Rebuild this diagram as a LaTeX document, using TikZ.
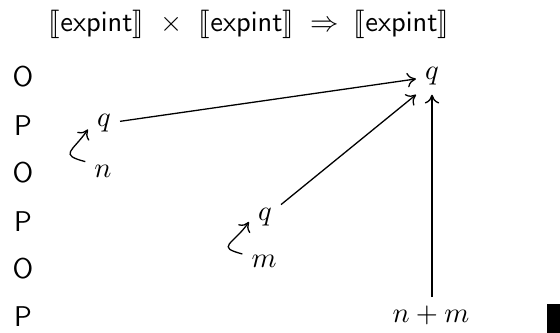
\documentclass[tikz,border=0pt]{standalone}
\usepackage{stmaryrd}
\usetikzlibrary{arrows.meta}
\begin{document}
\begin{tikzpicture}[x=0.385pt,y=-0.385pt,
  every node/.style={font=\fontsize{11}{13}\selectfont},
  ttl/.style={font=\fontsize{11.3}{14}\selectfont, anchor=base, inner sep=0pt},
  lbl/.style={font=\fontsize{11}{13}\selectfont\sffamily, inner sep=0pt},
  mnode/.style={anchor=base},
  arr/.style={-{To[length=3.4pt,width=5.6pt]}, line width=0.5pt},
  curl/.style={-{To[length=3.4pt,width=5.6pt]}, line width=0.5pt, looseness=2.2}]
\useasboundingbox (0,0) rectangle (560,333);
% title
\node[ttl] (t1) at (96.5,32) {$\llbracket\mathsf{expint}\rrbracket$};
\node[ttl] (tx) at (171.5,32) {$\times$};
\node[ttl] (t2) at (246.5,32) {$\llbracket\mathsf{expint}\rrbracket$};
\node[ttl] (tr) at (325,32) {$\Rightarrow$};
\node[ttl] (t3) at (401.5,32) {$\llbracket\mathsf{expint}\rrbracket$};
% O/P column
\node[lbl] (r1) at (23,77)  {O};
\node[lbl] (r2) at (23,126) {P};
\node[lbl] (r3) at (23,173) {O};
\node[lbl] (r4) at (23,222) {P};
\node[lbl] (r5) at (23,269) {O};
\node[lbl] (r6) at (23,317) {P};
% moves
\node[mnode] (qt) at (432,80)  {$q$};
\node[mnode] (q1) at (104,127) {$q$};
\node[mnode] (n)  at (103,178) {$n$};
\node[mnode] (q2) at (265,221) {$q$};
\node[mnode] (m)  at (264,268) {$m$};
\node[mnode] (nm) at (431,323) {$n+m$};
% connectors
\draw[arr] (q1) -- (qt);
\draw[arr] (q2) -- (qt.south west);
\draw[arr] (qt.south |- nm.north) -- (qt.south);
\draw[curl] (n.150) to[out=165, in=235] (q1.200);
\draw[curl] (m.160) to[out=165, in=235] (q2.195);
% black box at the right edge
\fill (547,304) rectangle (560,333);
\end{tikzpicture}
\end{document}
